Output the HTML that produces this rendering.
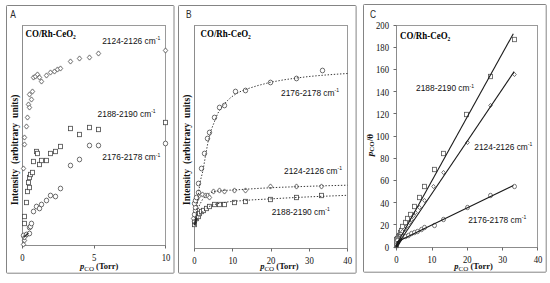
<!DOCTYPE html><html><head><meta charset="utf-8"><style>html,body{margin:0;padding:0;background:#fff;width:550px;height:283px;overflow:hidden}svg{display:block}</style></head><body>
<svg width="550" height="283" viewBox="0 0 550 283">
<rect width="550" height="283" fill="#fff"/>
<g fill="none" stroke="#848484" stroke-width="1">
<rect x="6.5" y="5.5" width="167.5" height="267.7" rx="0.8"/>
<rect x="178.5" y="5.5" width="177.6" height="267.7" rx="0.8"/>
<rect x="363.5" y="4.5" width="182.7" height="267.7" rx="0.8"/>
</g>
<g fill="none" stroke="#9a9a9a" stroke-width="1">
<rect x="22.5" y="25.5" width="143" height="220"/>
<rect x="194.5" y="25.5" width="153" height="223"/>
<rect x="396.5" y="25.5" width="141" height="222"/>
</g>
<g stroke="#8c8c8c" stroke-width="1" fill="none">
<path d="M22.5 25.5V245.5H165.5"/>
<path d="M194.5 25.5V250.5M194.5 248.5H347.5"/>
<path d="M396.5 25.5V247.5H537.5"/>
</g>
<g stroke="#6a6a6a" stroke-width="1" fill="none">
<path d="M22.5 245.5v3"/>
<path d="M94.5 245.5v3"/>
<path d="M165.5 245.5v3"/>
<path d="M194.5 248.5v3"/>
<path d="M232.5 248.5v3"/>
<path d="M271.5 248.5v3"/>
<path d="M309.5 248.5v3"/>
<path d="M347.5 248.5v3"/>
<path d="M396.5 247.5v3"/>
<path d="M432.5 247.5v3"/>
<path d="M467.5 247.5v3"/>
<path d="M502.5 247.5v3"/>
<path d="M537.5 247.5v3"/>
<path d="M393.5 25.5h3"/>
<path d="M393.5 47.5h3"/>
<path d="M393.5 69.5h3"/>
<path d="M393.5 91.5h3"/>
<path d="M393.5 113.5h3"/>
<path d="M393.5 136.5h3"/>
<path d="M393.5 158.5h3"/>
<path d="M393.5 180.5h3"/>
<path d="M393.5 202.5h3"/>
<path d="M393.5 224.5h3"/>
<path d="M393.5 247.5h3"/>
</g>
<g fill="#fff" stroke="#474747" stroke-width="0.8">
<ellipse cx="23.5" cy="235.5" rx="2.2" ry="2.4"/>
<ellipse cx="26.5" cy="234.5" rx="2.2" ry="2.4"/>
<ellipse cx="29.5" cy="233.5" rx="2.2" ry="2.4"/>
<ellipse cx="29.5" cy="227.5" rx="2.2" ry="2.4"/>
<ellipse cx="30.5" cy="226.5" rx="2.2" ry="2.4"/>
<ellipse cx="31.5" cy="223.5" rx="2.2" ry="2.4"/>
<ellipse cx="33.5" cy="211.5" rx="2.2" ry="2.4"/>
<ellipse cx="36.5" cy="206.5" rx="2.2" ry="2.4"/>
<ellipse cx="39.5" cy="208.5" rx="2.2" ry="2.4"/>
<ellipse cx="41.5" cy="204.5" rx="2.2" ry="2.4"/>
<ellipse cx="46.5" cy="200.5" rx="2.2" ry="2.4"/>
<ellipse cx="50.5" cy="195.5" rx="2.2" ry="2.4"/>
<ellipse cx="55.5" cy="196.5" rx="2.2" ry="2.4"/>
<ellipse cx="60.5" cy="188.5" rx="2.2" ry="2.4"/>
<ellipse cx="70.5" cy="165.5" rx="2.2" ry="2.4"/>
<ellipse cx="79.5" cy="159.5" rx="2.2" ry="2.4"/>
<ellipse cx="89.5" cy="145.5" rx="2.2" ry="2.4"/>
<ellipse cx="98.5" cy="145.5" rx="2.2" ry="2.4"/>
<ellipse cx="165.5" cy="143.5" rx="2.2" ry="2.4"/>
<rect x="22.5" y="221.3" width="4.0" height="4.4"/>
<rect x="22.5" y="214.3" width="4.0" height="4.4"/>
<rect x="24.5" y="200.3" width="4.0" height="4.4"/>
<rect x="25.5" y="189.3" width="4.0" height="4.4"/>
<rect x="27.5" y="185.3" width="4.0" height="4.4"/>
<rect x="26.5" y="180.3" width="4.0" height="4.4"/>
<rect x="27.5" y="175.3" width="4.0" height="4.4"/>
<rect x="28.5" y="172.3" width="4.0" height="4.4"/>
<rect x="30.5" y="170.3" width="4.0" height="4.4"/>
<rect x="31.5" y="159.3" width="4.0" height="4.4"/>
<rect x="34.5" y="149.3" width="4.0" height="4.4"/>
<rect x="35.5" y="151.3" width="4.0" height="4.4"/>
<rect x="37.5" y="162.3" width="4.0" height="4.4"/>
<rect x="39.5" y="158.3" width="4.0" height="4.4"/>
<rect x="44.5" y="158.3" width="4.0" height="4.4"/>
<rect x="48.5" y="151.3" width="4.0" height="4.4"/>
<rect x="53.5" y="149.3" width="4.0" height="4.4"/>
<rect x="58.5" y="144.3" width="4.0" height="4.4"/>
<rect x="68.5" y="126.3" width="4.0" height="4.4"/>
<rect x="77.5" y="132.3" width="4.0" height="4.4"/>
<rect x="87.5" y="125.3" width="4.0" height="4.4"/>
<rect x="96.5" y="127.3" width="4.0" height="4.4"/>
<rect x="163.5" y="120.3" width="4.0" height="4.4"/>
<path d="M23.5 241.9L25.7 244.5L23.5 247.1L21.3 244.5Z"/>
<path d="M24.5 237.9L26.7 240.5L24.5 243.1L22.3 240.5Z"/>
<path d="M24.5 234.9L26.7 237.5L24.5 240.1L22.3 237.5Z"/>
<path d="M23.5 165.9L25.7 168.5L23.5 171.1L21.3 168.5Z"/>
<path d="M24.5 141.9L26.7 144.5L24.5 147.1L22.3 144.5Z"/>
<path d="M24.5 134.9L26.7 137.5L24.5 140.1L22.3 137.5Z"/>
<path d="M26.5 123.9L28.7 126.5L26.5 129.1L24.3 126.5Z"/>
<path d="M27.5 114.9L29.7 117.5L27.5 120.1L25.3 117.5Z"/>
<path d="M28.5 101.9L30.7 104.5L28.5 107.1L26.3 104.5Z"/>
<path d="M29.5 104.9L31.7 107.5L29.5 110.1L27.3 107.5Z"/>
<path d="M31.5 96.9L33.7 99.5L31.5 102.1L29.3 99.5Z"/>
<path d="M29.5 91.9L31.7 94.5L29.5 97.1L27.3 94.5Z"/>
<path d="M32.5 88.9L34.7 91.5L32.5 94.1L30.3 91.5Z"/>
<path d="M33.5 74.9L35.7 77.5L33.5 80.1L31.3 77.5Z"/>
<path d="M35.5 73.9L37.7 76.5L35.5 79.1L33.3 76.5Z"/>
<path d="M37.5 71.9L39.7 74.5L37.5 77.1L35.3 74.5Z"/>
<path d="M39.5 74.9L41.7 77.5L39.5 80.1L37.3 77.5Z"/>
<path d="M41.5 78.9L43.7 81.5L41.5 84.1L39.3 81.5Z"/>
<path d="M46.5 72.9L48.7 75.5L46.5 78.1L44.3 75.5Z"/>
<path d="M50.5 69.9L52.7 72.5L50.5 75.1L48.3 72.5Z"/>
<path d="M54.5 68.9L56.7 71.5L54.5 74.1L52.3 71.5Z"/>
<path d="M57.5 66.9L59.7 69.5L57.5 72.1L55.3 69.5Z"/>
<path d="M60.5 65.9L62.7 68.5L60.5 71.1L58.3 68.5Z"/>
<path d="M70.5 58.9L72.7 61.5L70.5 64.1L68.3 61.5Z"/>
<path d="M79.5 55.9L81.7 58.5L79.5 61.1L77.3 58.5Z"/>
<path d="M89.5 54.9L91.7 57.5L89.5 60.1L87.3 57.5Z"/>
<path d="M98.5 50.9L100.7 53.5L98.5 56.1L96.3 53.5Z"/>
<path d="M165.5 47.9L167.7 50.5L165.5 53.1L163.3 50.5Z"/>
</g>
<g fill="#fff" stroke="#474747" stroke-width="0.8">
<rect x="192.5" y="222.3" width="4.0" height="4.4"/>
<rect x="192.5" y="219.3" width="4.0" height="4.4"/>
<rect x="194.5" y="216.3" width="4.0" height="4.4"/>
<rect x="196.5" y="214.3" width="4.0" height="4.4"/>
<rect x="197.5" y="211.3" width="4.0" height="4.4"/>
<rect x="199.5" y="209.3" width="4.0" height="4.4"/>
<rect x="201.5" y="208.3" width="4.0" height="4.4"/>
<rect x="204.5" y="206.3" width="4.0" height="4.4"/>
<rect x="207.5" y="204.3" width="4.0" height="4.4"/>
<rect x="212.5" y="202.3" width="4.0" height="4.4"/>
<rect x="217.5" y="202.3" width="4.0" height="4.4"/>
<rect x="222.5" y="202.3" width="4.0" height="4.4"/>
<rect x="232.5" y="200.3" width="4.0" height="4.4"/>
<rect x="243.5" y="199.3" width="4.0" height="4.4"/>
<rect x="268.5" y="197.3" width="4.0" height="4.4"/>
<rect x="294.5" y="195.3" width="4.0" height="4.4"/>
<rect x="319.5" y="193.3" width="4.0" height="4.4"/>
<path d="M193.5 215.9L195.7 218.5L193.5 221.1L191.3 218.5Z"/>
<path d="M194.5 218.9L196.7 221.5L194.5 224.1L192.3 221.5Z"/>
<path d="M196.5 196.9L198.7 199.5L196.5 202.1L194.3 199.5Z"/>
<path d="M198.5 193.9L200.7 196.5L198.5 199.1L196.3 196.5Z"/>
<path d="M202.5 191.9L204.7 194.5L202.5 197.1L200.3 194.5Z"/>
<path d="M205.5 192.9L207.7 195.5L205.5 198.1L203.3 195.5Z"/>
<path d="M207.5 192.9L209.7 195.5L207.5 198.1L205.3 195.5Z"/>
<path d="M209.5 194.9L211.7 197.5L209.5 200.1L207.3 197.5Z"/>
<path d="M213.5 188.9L215.7 191.5L213.5 194.1L211.3 191.5Z"/>
<path d="M219.5 187.9L221.7 190.5L219.5 193.1L217.3 190.5Z"/>
<path d="M224.5 188.9L226.7 191.5L224.5 194.1L222.3 191.5Z"/>
<path d="M234.5 187.9L236.7 190.5L234.5 193.1L232.3 190.5Z"/>
<path d="M245.5 187.9L247.7 190.5L245.5 193.1L243.3 190.5Z"/>
<path d="M270.5 183.9L272.7 186.5L270.5 189.1L268.3 186.5Z"/>
<path d="M296.5 183.9L298.7 186.5L296.5 189.1L294.3 186.5Z"/>
<path d="M321.5 183.9L323.7 186.5L321.5 189.1L319.3 186.5Z"/>
<ellipse cx="194.5" cy="214.5" rx="2.2" ry="2.4"/>
<ellipse cx="195.5" cy="210.5" rx="2.2" ry="2.4"/>
<ellipse cx="195.5" cy="207.5" rx="2.2" ry="2.4"/>
<ellipse cx="194.5" cy="203.5" rx="2.2" ry="2.4"/>
<ellipse cx="195.5" cy="200.5" rx="2.2" ry="2.4"/>
<ellipse cx="196.5" cy="197.5" rx="2.2" ry="2.4"/>
<ellipse cx="198.5" cy="192.5" rx="2.2" ry="2.4"/>
<ellipse cx="198.5" cy="183.5" rx="2.2" ry="2.4"/>
<ellipse cx="201.5" cy="168.5" rx="2.2" ry="2.4"/>
<ellipse cx="204.5" cy="153.5" rx="2.2" ry="2.4"/>
<ellipse cx="207.5" cy="138.5" rx="2.2" ry="2.4"/>
<ellipse cx="209.5" cy="132.5" rx="2.2" ry="2.4"/>
<ellipse cx="214.5" cy="117.5" rx="2.2" ry="2.4"/>
<ellipse cx="219.5" cy="107.5" rx="2.2" ry="2.4"/>
<ellipse cx="224.5" cy="105.5" rx="2.2" ry="2.4"/>
<ellipse cx="235.5" cy="91.5" rx="2.2" ry="2.4"/>
<ellipse cx="245.5" cy="90.5" rx="2.2" ry="2.4"/>
<ellipse cx="270.5" cy="82.5" rx="2.2" ry="2.4"/>
<ellipse cx="296.5" cy="78.5" rx="2.2" ry="2.4"/>
<ellipse cx="322.5" cy="70.5" rx="2.2" ry="2.4"/>
</g>
<g fill="none" stroke="#3a3a3a" stroke-width="1" stroke-dasharray="1.4 1.7">
<polyline points="195.5,222.0 196.5,212.0 197.5,203.0 198.7,192.0 200.3,181.0 202.9,171.0 205.2,157.6 207.9,142.6 211.4,129.4 214.9,120.5 217.7,113.5 221.5,107.5 226.2,101.8 231.0,97.3 236.8,93.3 242.0,90.8 247.4,88.8 258.0,85.5 271.2,82.1 284.0,79.8 296.6,78.0 309.0,76.5 322.0,75.3 335.0,74.3 347.5,73.5"/>
<polyline points="195.0,221.0 197.0,212.0 199.5,205.0 202.5,199.5 206.0,195.5 210.6,192.6 216.0,191.2 225.0,190.4 240.0,189.6 260.0,188.3 280.0,187.3 300.0,186.6 320.0,185.9 347.5,185.2"/>
<polyline points="195.0,226.0 197.5,219.0 200.5,214.0 204.0,210.0 208.0,207.0 213.0,204.8 220.0,203.2 228.5,201.8 240.0,200.8 252.0,199.9 270.0,198.9 290.0,197.8 310.0,196.8 330.0,196.0 347.5,195.3"/>
</g>
<g fill="#fff" stroke="#555" stroke-width="0.8">
<rect x="394.5" y="237.3" width="4.0" height="4.4"/>
<rect x="395.5" y="236.3" width="4.0" height="4.4"/>
<rect x="396.5" y="234.3" width="4.0" height="4.4"/>
<rect x="397.5" y="233.3" width="4.0" height="4.4"/>
<rect x="398.5" y="230.3" width="4.0" height="4.4"/>
<rect x="399.5" y="228.3" width="4.0" height="4.4"/>
<rect x="400.5" y="224.3" width="4.0" height="4.4"/>
<rect x="403.5" y="220.3" width="4.0" height="4.4"/>
<rect x="405.5" y="216.3" width="4.0" height="4.4"/>
<rect x="408.5" y="212.3" width="4.0" height="4.4"/>
<rect x="412.5" y="204.3" width="4.0" height="4.4"/>
<rect x="417.5" y="195.3" width="4.0" height="4.4"/>
<rect x="422.5" y="184.3" width="4.0" height="4.4"/>
<rect x="432.5" y="167.3" width="4.0" height="4.4"/>
<rect x="441.5" y="151.3" width="4.0" height="4.4"/>
<rect x="464.5" y="112.3" width="4.0" height="4.4"/>
<rect x="488.5" y="74.3" width="4.0" height="4.4"/>
<rect x="512.5" y="37.3" width="4.0" height="4.4"/>
<rect x="394.5" y="243.3" width="4.0" height="4.4"/>
<rect x="394.5" y="241.3" width="4.0" height="4.4"/>
<rect x="394.5" y="240.3" width="4.0" height="4.4"/>
<rect x="395.5" y="239.3" width="4.0" height="4.4"/>
<rect x="395.5" y="238.3" width="4.0" height="4.4"/>
<path d="M396.5 237.4L398.3 239.5L396.5 241.6L394.7 239.5Z"/>
<path d="M397.5 236.4L399.3 238.5L397.5 240.6L395.7 238.5Z"/>
<path d="M398.5 235.4L400.3 237.5L398.5 239.6L396.7 237.5Z"/>
<path d="M399.5 234.4L401.3 236.5L399.5 238.6L397.7 236.5Z"/>
<path d="M400.5 233.4L402.3 235.5L400.5 237.6L398.7 235.5Z"/>
<path d="M401.5 231.4L403.3 233.5L401.5 235.6L399.7 233.5Z"/>
<path d="M402.5 229.4L404.3 231.5L402.5 233.6L400.7 231.5Z"/>
<path d="M404.5 227.4L406.3 229.5L404.5 231.6L402.7 229.5Z"/>
<path d="M406.5 224.4L408.3 226.5L406.5 228.6L404.7 226.5Z"/>
<path d="M409.5 220.4L411.3 222.5L409.5 224.6L407.7 222.5Z"/>
<path d="M411.5 217.4L413.3 219.5L411.5 221.6L409.7 219.5Z"/>
<path d="M413.5 213.4L415.3 215.5L413.5 217.6L411.7 215.5Z"/>
<path d="M415.5 210.4L417.3 212.5L415.5 214.6L413.7 212.5Z"/>
<path d="M419.5 205.4L421.3 207.5L419.5 209.6L417.7 207.5Z"/>
<path d="M424.5 198.4L426.3 200.5L424.5 202.6L422.7 200.5Z"/>
<path d="M433.5 184.4L435.3 186.5L433.5 188.6L431.7 186.5Z"/>
<path d="M443.5 170.4L445.3 172.5L443.5 174.6L441.7 172.5Z"/>
<path d="M467.5 140.4L469.3 142.5L467.5 144.6L465.7 142.5Z"/>
<path d="M490.5 103.4L492.3 105.5L490.5 107.6L488.7 105.5Z"/>
<path d="M514.5 72.4L516.3 74.5L514.5 76.6L512.7 74.5Z"/>
<path d="M396.5 244.4L398.3 246.5L396.5 248.6L394.7 246.5Z"/>
<path d="M396.5 242.4L398.3 244.5L396.5 246.6L394.7 244.5Z"/>
<path d="M396.5 240.4L398.3 242.5L396.5 244.6L394.7 242.5Z"/>
<path d="M397.5 239.4L399.3 241.5L397.5 243.6L395.7 241.5Z"/>
<ellipse cx="396.5" cy="239.5" rx="2.0" ry="2.2"/>
<ellipse cx="397.5" cy="238.5" rx="2.0" ry="2.2"/>
<ellipse cx="398.5" cy="238.5" rx="2.0" ry="2.2"/>
<ellipse cx="399.5" cy="238.5" rx="2.0" ry="2.2"/>
<ellipse cx="400.5" cy="238.5" rx="2.0" ry="2.2"/>
<ellipse cx="401.5" cy="237.5" rx="2.0" ry="2.2"/>
<ellipse cx="402.5" cy="236.5" rx="2.0" ry="2.2"/>
<ellipse cx="405.5" cy="236.5" rx="2.0" ry="2.2"/>
<ellipse cx="408.5" cy="235.5" rx="2.0" ry="2.2"/>
<ellipse cx="411.5" cy="233.5" rx="2.0" ry="2.2"/>
<ellipse cx="414.5" cy="232.5" rx="2.0" ry="2.2"/>
<ellipse cx="417.5" cy="231.5" rx="2.0" ry="2.2"/>
<ellipse cx="421.5" cy="229.5" rx="2.0" ry="2.2"/>
<ellipse cx="424.5" cy="227.5" rx="2.0" ry="2.2"/>
<ellipse cx="434.5" cy="225.5" rx="2.0" ry="2.2"/>
<ellipse cx="443.5" cy="219.5" rx="2.0" ry="2.2"/>
<ellipse cx="467.5" cy="207.5" rx="2.0" ry="2.2"/>
<ellipse cx="490.5" cy="195.5" rx="2.0" ry="2.2"/>
<ellipse cx="514.5" cy="186.5" rx="2.0" ry="2.2"/>
<ellipse cx="396.5" cy="245.5" rx="2.0" ry="2.2"/>
<ellipse cx="396.5" cy="243.5" rx="2.0" ry="2.2"/>
<ellipse cx="396.5" cy="241.5" rx="2.0" ry="2.2"/>
<ellipse cx="397.5" cy="240.5" rx="2.0" ry="2.2"/>
</g>
<g stroke="#1a1a1a" stroke-width="1.1" fill="none">
<path d="M396.2 245.3L513.3 33.7"/>
<path d="M396.2 246.5L514.1 71.6"/>
<path d="M396.2 242.3L513.4 185.5"/>
</g>
<path d="M396.6 246.3L400.8 239.6" stroke="#1c1c1c" stroke-width="2.8" stroke-linecap="round" fill="none"/>
<path d="M194.8 224.2L196.2 218.6" stroke="#2a2a2a" stroke-width="2.2" stroke-linecap="round" fill="none"/>
<path d="M24 237L28 233.5" stroke="#333" stroke-width="1.6" stroke-linecap="round" fill="none"/>
<g fill="#111">
<text transform="translate(10.2 17.7) scale(0.84 1)" font-family="Liberation Sans" font-size="10" fill="#2a2a2a">A</text>
<text transform="translate(186.0 17.7) scale(0.84 1)" font-family="Liberation Sans" font-size="10" fill="#2a2a2a">B</text>
<text transform="translate(370.0 17.7) scale(0.84 1)" font-family="Liberation Sans" font-size="10" fill="#2a2a2a">C</text>
<text x="25.5" y="37" font-family="Liberation Serif" font-size="9.8" font-weight="bold" fill="#000" textLength="50.3" lengthAdjust="spacingAndGlyphs">CO/Rh-CeO<tspan font-size="6" dy="1.8">2</tspan></text>
<text x="200.5" y="37.3" font-family="Liberation Serif" font-size="9.8" font-weight="bold" fill="#000" textLength="50.3" lengthAdjust="spacingAndGlyphs">CO/Rh-CeO<tspan font-size="6" dy="1.8">2</tspan></text>
<text x="400" y="39.2" font-family="Liberation Serif" font-size="9.8" font-weight="bold" fill="#000" textLength="50.3" lengthAdjust="spacingAndGlyphs">CO/Rh-CeO<tspan font-size="6" dy="1.8">2</tspan></text>
<text x="102.2" y="44.1" font-family="Liberation Sans" font-size="9.2" textLength="58" lengthAdjust="spacingAndGlyphs">2124-2126 cm<tspan font-size="5.5" dy="-3.9">-1</tspan></text>
<text x="97.6" y="117.19999999999999" font-family="Liberation Sans" font-size="9.2" textLength="58" lengthAdjust="spacingAndGlyphs">2188-2190 cm<tspan font-size="5.5" dy="-3.9">-1</tspan></text>
<text x="102.3" y="160.4" font-family="Liberation Sans" font-size="9.2" textLength="58" lengthAdjust="spacingAndGlyphs">2176-2178 cm<tspan font-size="5.5" dy="-3.9">-1</tspan></text>
<text x="281" y="95.6" font-family="Liberation Sans" font-size="9.2" textLength="58" lengthAdjust="spacingAndGlyphs">2176-2178 cm<tspan font-size="5.5" dy="-3.9">-1</tspan></text>
<text x="284" y="173.9" font-family="Liberation Sans" font-size="9.2" textLength="58" lengthAdjust="spacingAndGlyphs">2124-2126 cm<tspan font-size="5.5" dy="-3.9">-1</tspan></text>
<text x="271.7" y="214.9" font-family="Liberation Sans" font-size="9.2" textLength="58" lengthAdjust="spacingAndGlyphs">2188-2190 cm<tspan font-size="5.5" dy="-3.9">-1</tspan></text>
<text x="416" y="91.39999999999999" font-family="Liberation Sans" font-size="9.2" textLength="58" lengthAdjust="spacingAndGlyphs">2188-2190 cm<tspan font-size="5.5" dy="-3.9">-1</tspan></text>
<text x="474.3" y="149.79999999999998" font-family="Liberation Sans" font-size="9.2" textLength="58" lengthAdjust="spacingAndGlyphs">2124-2126 cm<tspan font-size="5.5" dy="-3.9">-1</tspan></text>
<text x="468.2" y="223.0" font-family="Liberation Sans" font-size="9.2" textLength="58" lengthAdjust="spacingAndGlyphs">2176-2178 cm<tspan font-size="5.5" dy="-3.9">-1</tspan></text>
<text transform="translate(22.5 261) scale(0.92 1)" font-family="Liberation Serif" font-size="9.5" text-anchor="middle">0</text>
<text transform="translate(94.2 261) scale(0.92 1)" font-family="Liberation Serif" font-size="9.5" text-anchor="middle">5</text>
<text transform="translate(166 261) scale(0.92 1)" font-family="Liberation Serif" font-size="9.5" text-anchor="middle">10</text>
<text transform="translate(194.5 263.5) scale(0.92 1)" font-family="Liberation Serif" font-size="9.5" text-anchor="middle">0</text>
<text transform="translate(232.8 263.5) scale(0.92 1)" font-family="Liberation Serif" font-size="9.5" text-anchor="middle">10</text>
<text transform="translate(271.1 263.5) scale(0.92 1)" font-family="Liberation Serif" font-size="9.5" text-anchor="middle">20</text>
<text transform="translate(309.4 263.5) scale(0.92 1)" font-family="Liberation Serif" font-size="9.5" text-anchor="middle">30</text>
<text transform="translate(347.7 263.5) scale(0.92 1)" font-family="Liberation Serif" font-size="9.5" text-anchor="middle">40</text>
<text transform="translate(396.5 262.7) scale(0.92 1)" font-family="Liberation Serif" font-size="9.5" text-anchor="middle">0</text>
<text transform="translate(431.9 262.7) scale(0.92 1)" font-family="Liberation Serif" font-size="9.5" text-anchor="middle">10</text>
<text transform="translate(467.3 262.7) scale(0.92 1)" font-family="Liberation Serif" font-size="9.5" text-anchor="middle">20</text>
<text transform="translate(502.7 262.7) scale(0.92 1)" font-family="Liberation Serif" font-size="9.5" text-anchor="middle">30</text>
<text transform="translate(538.0999999999999 262.7) scale(0.92 1)" font-family="Liberation Serif" font-size="9.5" text-anchor="middle">40</text>
<text transform="translate(389 250.9) scale(0.92 1)" font-family="Liberation Serif" font-size="9.5" text-anchor="end">0</text>
<text transform="translate(389 228.70000000000002) scale(0.92 1)" font-family="Liberation Serif" font-size="9.5" text-anchor="end">20</text>
<text transform="translate(389 206.5) scale(0.92 1)" font-family="Liberation Serif" font-size="9.5" text-anchor="end">40</text>
<text transform="translate(389 184.29999999999998) scale(0.92 1)" font-family="Liberation Serif" font-size="9.5" text-anchor="end">60</text>
<text transform="translate(389 162.1) scale(0.92 1)" font-family="Liberation Serif" font-size="9.5" text-anchor="end">80</text>
<text transform="translate(389 139.9) scale(0.92 1)" font-family="Liberation Serif" font-size="9.5" text-anchor="end">100</text>
<text transform="translate(389 117.69999999999999) scale(0.92 1)" font-family="Liberation Serif" font-size="9.5" text-anchor="end">120</text>
<text transform="translate(389 95.5) scale(0.92 1)" font-family="Liberation Serif" font-size="9.5" text-anchor="end">140</text>
<text transform="translate(389 73.29999999999998) scale(0.92 1)" font-family="Liberation Serif" font-size="9.5" text-anchor="end">160</text>
<text transform="translate(389 51.1) scale(0.92 1)" font-family="Liberation Serif" font-size="9.5" text-anchor="end">180</text>
<text transform="translate(389 28.899999999999984) scale(0.92 1)" font-family="Liberation Serif" font-size="9.5" text-anchor="end">200</text>
<text x="80" y="269.3" font-family="Liberation Serif" font-size="8.5" font-weight="bold"><tspan font-style="italic">p</tspan><tspan font-size="7" font-weight="normal" dy="1.5">CO</tspan><tspan dy="-1.5"> (Torr)</tspan></text>
<text x="260.2" y="269.3" font-family="Liberation Serif" font-size="8.5" font-weight="bold"><tspan font-style="italic">p</tspan><tspan font-size="7" font-weight="normal" dy="1.5">CO</tspan><tspan dy="-1.5"> (Torr)</tspan></text>
<text x="454.3" y="269.3" font-family="Liberation Serif" font-size="8.5" font-weight="bold"><tspan font-style="italic">p</tspan><tspan font-size="7" font-weight="normal" dy="1.5">CO</tspan><tspan dy="-1.5"> (Torr)</tspan></text>
<text transform="translate(18.2 204.9) rotate(-90)" font-family="Liberation Serif" font-size="9.5" font-weight="bold" word-spacing="2.6">Intensity (arbitrary units)</text>
<text transform="translate(190.2 204.9) rotate(-90)" font-family="Liberation Serif" font-size="9.5" font-weight="bold" word-spacing="2.6">Intensity (arbitrary units)</text>
<text transform="translate(372.6 156.3) rotate(-90)" font-family="Liberation Serif" font-size="9.2" font-weight="bold"><tspan font-style="italic">p</tspan><tspan font-size="7.0" dy="1.5">CO</tspan><tspan dy="-1.5">/θ</tspan></text>
</g>
</svg></body></html>
